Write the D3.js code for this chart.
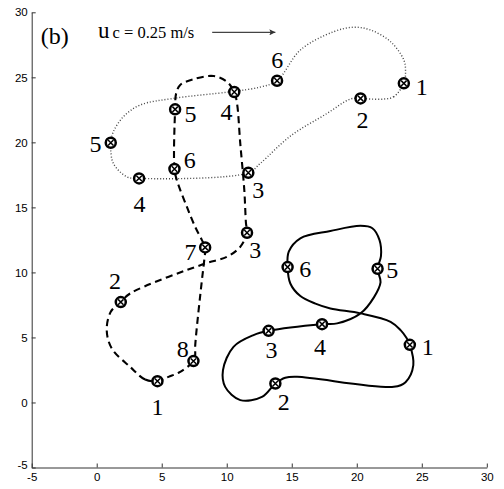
<!DOCTYPE html>
<html>
<head>
<meta charset="utf-8">
<script src="https://cdn.jsdelivr.net/npm/d3@7"></script>
<style>
  html, body { margin: 0; padding: 0; background: #fff; }
  svg { display: block; }
  .axis text { font-family: "Liberation Sans", Arial, Helvetica, sans-serif; font-size: 11.5px; fill: #000; }
  .axis path, .axis line { stroke: #333; stroke-width: 1; }
  .lbl { font-family: "Liberation Serif", "Times New Roman", serif; font-size: 24px; fill: #000; }
</style>
</head>
<body>
<svg id="chart" width="504" height="489"></svg>
<script>
// Axis ticks (metres)
const xTicks = [-5, 0, 5, 10, 15, 20, 25, 30];
const yTicks = [-5, 0, 5, 10, 15, 20, 25, 30];

// Trajectory 1 (solid): closed track and numbered float positions
const solidTrack = [
  [24.08, 4.43], [24.35, 2.87], [23.75, 1.56], [22.85, 1.20], [15.41, 1.97], [14.50, 1.90],
  [13.74, 1.46], [12.71, 0.43], [11.04, 0.18], [9.88, 1.20], [9.71, 2.48], [10.52, 4.28],
  [12.06, 5.18], [13.22, 5.51], [17.33, 6.02], [18.49, 6.08], [20.29, 6.85], [21.33, 8.10],
  [21.83, 9.25], [21.60, 10.28], [21.86, 11.25], [21.75, 12.48], [21.20, 13.40], [20.29, 13.58],
  [17.97, 13.18], [15.66, 12.62], [14.77, 11.59], [14.68, 10.41], [14.89, 9.15], [15.66, 8.18],
  [16.82, 7.60], [17.97, 7.23], [20.29, 6.85], [22.60, 6.20], [23.37, 5.56], [23.83, 4.95]
];
const solidPoints = [[24.08, 4.43], [13.74, 1.46], [13.22, 5.51], [17.33, 6.02], [21.60, 10.28], [14.68, 10.41]];
const solidNames = ["1", "2", "3", "4", "5", "6"];

// Trajectory 2 (dashed)
const dashedTrack = [
  [4.67, 1.64], [3.72, 1.77], [2.57, 2.74], [1.16, 4.15], [0.77, 5.56], [1.08, 6.97],
  [1.85, 7.72], [2.57, 8.38], [8.21, 10.64], [10.02, 11.20], [11.04, 11.97], [11.56, 13.05],
  [11.48, 13.77], [11.35, 16.33], [11.04, 19.92], [10.79, 23.00], [10.58, 23.87], [10.02, 24.66],
  [8.98, 25.10], [7.44, 24.85], [6.42, 24.41], [6.11, 23.77], [6.03, 22.54], [5.98, 17.95],
  [6.16, 17.10], [6.93, 15.05], [7.57, 13.51], [8.09, 12.48], [8.34, 11.92], [8.27, 10.95],
  [8.09, 9.41], [7.57, 4.28], [7.57, 3.64], [7.44, 3.18], [6.42, 2.35], [5.52, 1.97]
];
const dashedPoints = [[4.67, 1.64], [1.85, 7.72], [11.56, 13.05], [10.58, 23.87], [6.03, 22.54], [5.98, 17.95], [8.34, 11.92], [7.44, 3.18]];
const dashedNames = ["1", "2", "3", "4", "5", "6", "7", "8"];

// Trajectory 3 (dotted)
const dottedTrack = [
  [23.62, 24.54], [22.85, 23.51], [22.08, 23.33], [21.06, 23.33], [20.29, 23.38], [19.51, 23.33],
  [17.72, 22.23], [14.89, 20.48], [12.58, 18.38], [11.66, 17.66], [3.26, 17.23], [2.31, 17.35],
  [1.28, 18.38], [1.08, 19.41], [1.08, 19.97], [1.28, 20.82], [2.05, 21.97], [3.34, 22.87],
  [5.90, 23.38], [10.27, 23.89], [12.58, 24.25], [13.87, 24.74], [15.66, 27.10], [18.23, 28.51],
  [19.77, 28.85], [21.06, 28.64], [22.60, 27.74], [23.62, 26.33], [23.75, 25.43]
];
const dottedPoints = [[23.62, 24.54], [20.29, 23.38], [11.66, 17.66], [3.26, 17.23], [1.08, 19.97], [13.87, 24.74]];
const dottedNames = ["1", "2", "3", "4", "5", "6"];

// Current-speed reference arrow (from, to), in metres
const currentArrow = [[8.88, 28.46], [13.74, 28.46]];

// Label placement around each float symbol (pixel offsets: centre x, baseline y)
const solidLabelOffset  = [[18, 10], [8.5, 27], [3, 27.6], [-2, 31], [14.7, 9.6], [17.7, 9.7]];
const dashedLabelOffset = [[0, 34], [-5.7, -12.7], [8.3, 25.6], [-7.7, 28], [15.5, 12.4], [15.4, -0.7], [-14.7, 12.7], [-10.8, -4.3]];
const dottedLabelOffset = [[18, 11.7], [2, 30], [10, 25.3], [0.5, 33.4], [-15.2, 9], [0.3, -12.4]];

const svg = d3.select("#chart");
const x = d3.scaleLinear().domain([-5, 30]).range([31.7, 486.8]);
const y = d3.scaleLinear().domain([-5, 30]).range([467.5, 12.3]);

// Axes: left and bottom only, ticks pointing inward
svg.append("g").attr("class", "axis")
  .attr("transform", `translate(0,${y(-5)})`)
  .call(d3.axisBottom(x).tickValues(xTicks).tickSizeInner(-4).tickSizeOuter(0).tickPadding(5)
        .tickFormat(d => String(d)));
svg.append("g").attr("class", "axis")
  .attr("transform", `translate(${x(-5)},0)`)
  .call(d3.axisLeft(y).tickValues(yTicks).tickSizeInner(-4).tickSizeOuter(0).tickPadding(4)
        .tickFormat(d => String(d)))
  .call(g => g.selectAll(".tick text").filter(d => d === -5).attr("dy", "0.1em"));

const line = d3.line().x(d => x(d[0])).y(d => y(d[1])).curve(d3.curveCatmullRomClosed.alpha(0.5));

svg.append("path").datum(dottedTrack).attr("d", line)
  .attr("fill", "none").attr("stroke", "#444").attr("stroke-width", 1.4).attr("stroke-dasharray", "1,2");
svg.append("path").datum(dashedTrack).attr("d", line)
  .attr("fill", "none").attr("stroke", "#000").attr("stroke-width", 2.1).attr("stroke-dasharray", "7,4.5");
svg.append("path").datum(solidTrack).attr("d", line)
  .attr("fill", "none").attr("stroke", "#000").attr("stroke-width", 2);

// Float symbols (circled cross) and their numbers
function drawFloats(points, names, offsets) {
  const g = svg.append("g");
  const m = g.selectAll("g.float").data(points).join("g")
    .attr("class", "float")
    .attr("transform", d => `translate(${x(d[0])},${y(d[1])})`);
  m.append("circle").attr("r", 5).attr("fill", "#fff").attr("stroke", "#000").attr("stroke-width", 2.5);
  m.append("path").attr("d", "M-2.7,-2.7L2.7,2.7M-2.7,2.7L2.7,-2.7")
    .attr("stroke", "#000").attr("stroke-width", 1.5);
  g.selectAll("text").data(points).join("text")
    .attr("class", "lbl")
    .attr("text-anchor", "middle")
    .attr("x", (d, i) => x(d[0]) + offsets[i][0])
    .attr("y", (d, i) => y(d[1]) + offsets[i][1])
    .text((d, i) => names[i]);
}
drawFloats(dottedPoints, dottedNames, dottedLabelOffset);
drawFloats(dashedPoints, dashedNames, dashedLabelOffset);
drawFloats(solidPoints, solidNames, solidLabelOffset);

// Panel tag and current arrow
svg.append("text").attr("class", "lbl").attr("x", x(-4.31)).attr("y", 43.5).attr("font-size", 25).text("(b)");
const title = svg.append("text")
  .attr("font-family", "'Liberation Serif', 'Times New Roman', serif")
  .attr("x", x(0.1)).attr("y", 38);
title.append("tspan").attr("font-size", 23).text("u");
title.append("tspan").attr("font-size", 16.5).attr("dx", 3).text("c = 0.25 m/s");

svg.append("defs").append("marker")
  .attr("id", "head").attr("viewBox", "0 0 10 10").attr("refX", 10).attr("refY", 5)
  .attr("markerWidth", 8).attr("markerHeight", 6).attr("markerUnits", "userSpaceOnUse").attr("orient", "auto")
  .append("path").attr("d", "M0,0L10,5L0,10L2,5Z").attr("fill", "#333");
svg.append("line")
  .attr("x1", x(currentArrow[0][0])).attr("y1", y(currentArrow[0][1]))
  .attr("x2", x(currentArrow[1][0])).attr("y2", y(currentArrow[1][1]))
  .attr("stroke", "#444").attr("stroke-width", 1.2).attr("marker-end", "url(#head)");
</script>
</body>
</html>
